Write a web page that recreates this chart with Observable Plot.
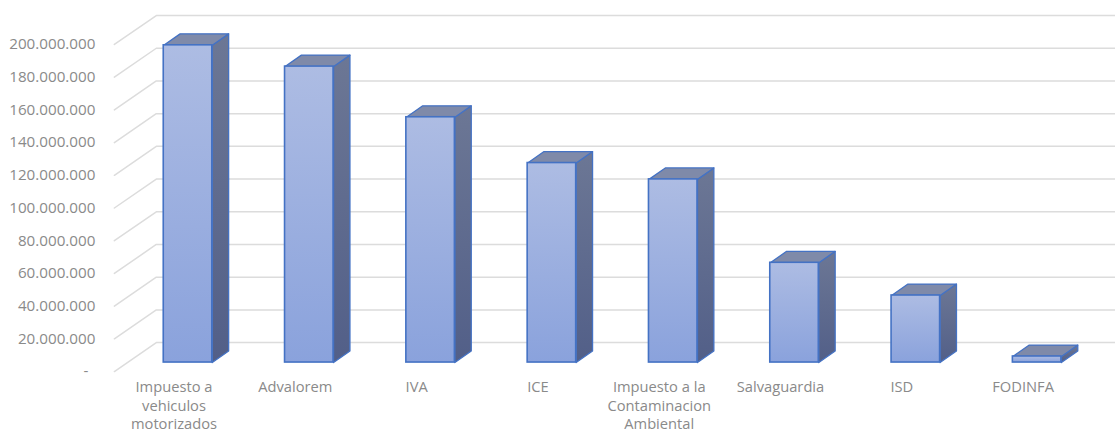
<!DOCTYPE html>
<html>
<head>
<meta charset="utf-8">
<script src="https://cdn.jsdelivr.net/npm/d3@7"></script>
<script src="https://cdn.jsdelivr.net/npm/@observablehq/plot@0.6"></script>
<style>
  html, body { margin: 0; padding: 0; background: #fff; }
  svg { display: block; }
</style>
</head>
<body>
<div id="chart"></div>
<script>
// Tax collection by type
const categories = [
  "Impuesto a\nvehiculos\nmotorizados", "Advalorem", "IVA", "ICE",
  "Impuesto a la\nContaminacion\nAmbiental", "Salvaguardia", "ISD", "FODINFA"
];
const values = [194, 181, 150, 122, 112, 61, 41, 3.7]; // millions
const tickValues = [0, 20, 40, 60, 80, 100, 120, 140, 160, 180, 200];
const tickLabels = ["-", "20.000.000", "40.000.000", "60.000.000", "80.000.000", "100.000.000",
  "120.000.000", "140.000.000", "160.000.000", "180.000.000", "200.000.000"];

// Oblique projection of the fake 3D box, in scale units
const barHalf = 0.2, barDepthX = 0.135, barDepthY = 7;
const floorFront = -5.5, floorBack = 12.2;
const wallLeftX = -0.2613, axisLeftX = -0.607, wallRightX = 7.646;

const rows = categories.map((name, i) => ({name, i, v: values[i]}));

// One closed outline per face; the line mark fills each group
const face = (fn) => rows.flatMap(r => fn(r).map(([x, y]) => ({x, y, z: r.i})));
const sideFace = face(({i, v}) => [
  [i + barHalf, 0], [i + barHalf + barDepthX, barDepthY],
  [i + barHalf + barDepthX, v + barDepthY], [i + barHalf, v], [i + barHalf, 0]
]);
const topFace = face(({i, v}) => [
  [i - barHalf, v], [i + barHalf, v], [i + barHalf + barDepthX, v + barDepthY],
  [i - barHalf + barDepthX, v + barDepthY], [i - barHalf, v]
]);

const gridLines = tickValues.flatMap(t => [
  {x: axisLeftX, y: t + floorFront, t},
  {x: wallLeftX, y: t + floorBack, t},
  {x: wallRightX, y: t + floorBack, t}
]);

const gradient = (id, top, bottom) => {
  const g = d3.create("svg:linearGradient").attr("id", id)
    .attr("x1", 0).attr("y1", 0).attr("x2", 0).attr("y2", 1);
  g.append("stop").attr("offset", "0%").attr("stop-color", top);
  g.append("stop").attr("offset", "100%").attr("stop-color", bottom);
  return g.node();
};
const defs = () => {
  const d = d3.create("svg:defs");
  d.append(() => gradient("frontFill", "#adbce3", "#8aa2dc"));
  d.append(() => gradient("sideFill", "#6c7795", "#525f88"));
  return d.node();
};

const textFont = "'Open Sans', 'Noto Sans', sans-serif";
const barStroke = "#4472c4";
const labelGrey = "#8a8a8a";

const tickText = (filter, dx) => Plot.text(tickValues, {
  filter,
  x: axisLeftX, y: d => d + floorFront,
  text: d => tickLabels[tickValues.indexOf(d)],
  dx, dy: 0, textAnchor: "end", fontSize: 15.2, fill: labelGrey
});

const chart = Plot.plot({
  width: 1115,
  height: 433,
  margin: 0,
  style: {background: "#fff", fontFamily: textFont},
  x: {domain: [-1.5457, 7.646], range: [0, 1115], axis: null},
  y: {domain: [-43.4, 221.4], range: [433, 0], axis: null},
  marks: [
    defs,
    Plot.line(gridLines, {x: "x", y: "y", z: "t", stroke: "#dcdcdc", strokeWidth: 1.5}),
    Plot.line(sideFace, {x: "x", y: "y", z: "z", fill: "url(#sideFill)", stroke: barStroke, strokeWidth: 1.3, strokeLinejoin: "round"}),
    Plot.line(topFace, {x: "x", y: "y", z: "z", fill: "#7f8aa9", stroke: barStroke, strokeWidth: 1.3, strokeLinejoin: "round"}),
    Plot.rectY(rows, {
      x1: d => d.i - barHalf, x2: d => d.i + barHalf, y1: 0, y2: "v",
      fill: "url(#frontFill)", stroke: barStroke, strokeWidth: 1.6
    }),
    tickText(d => d > 0, -19),
    tickText(d => d === 0, -26),
    Plot.text(rows, {
      x: d => d.i, y: floorFront, text: "name",
      dx: -14, dy: 8, lineAnchor: "top", lineHeight: 1.24,
      textAnchor: "middle", fontSize: 14.7, fill: labelGrey
    })
  ]
});
document.getElementById("chart").append(chart);
</script>
</body>
</html>
